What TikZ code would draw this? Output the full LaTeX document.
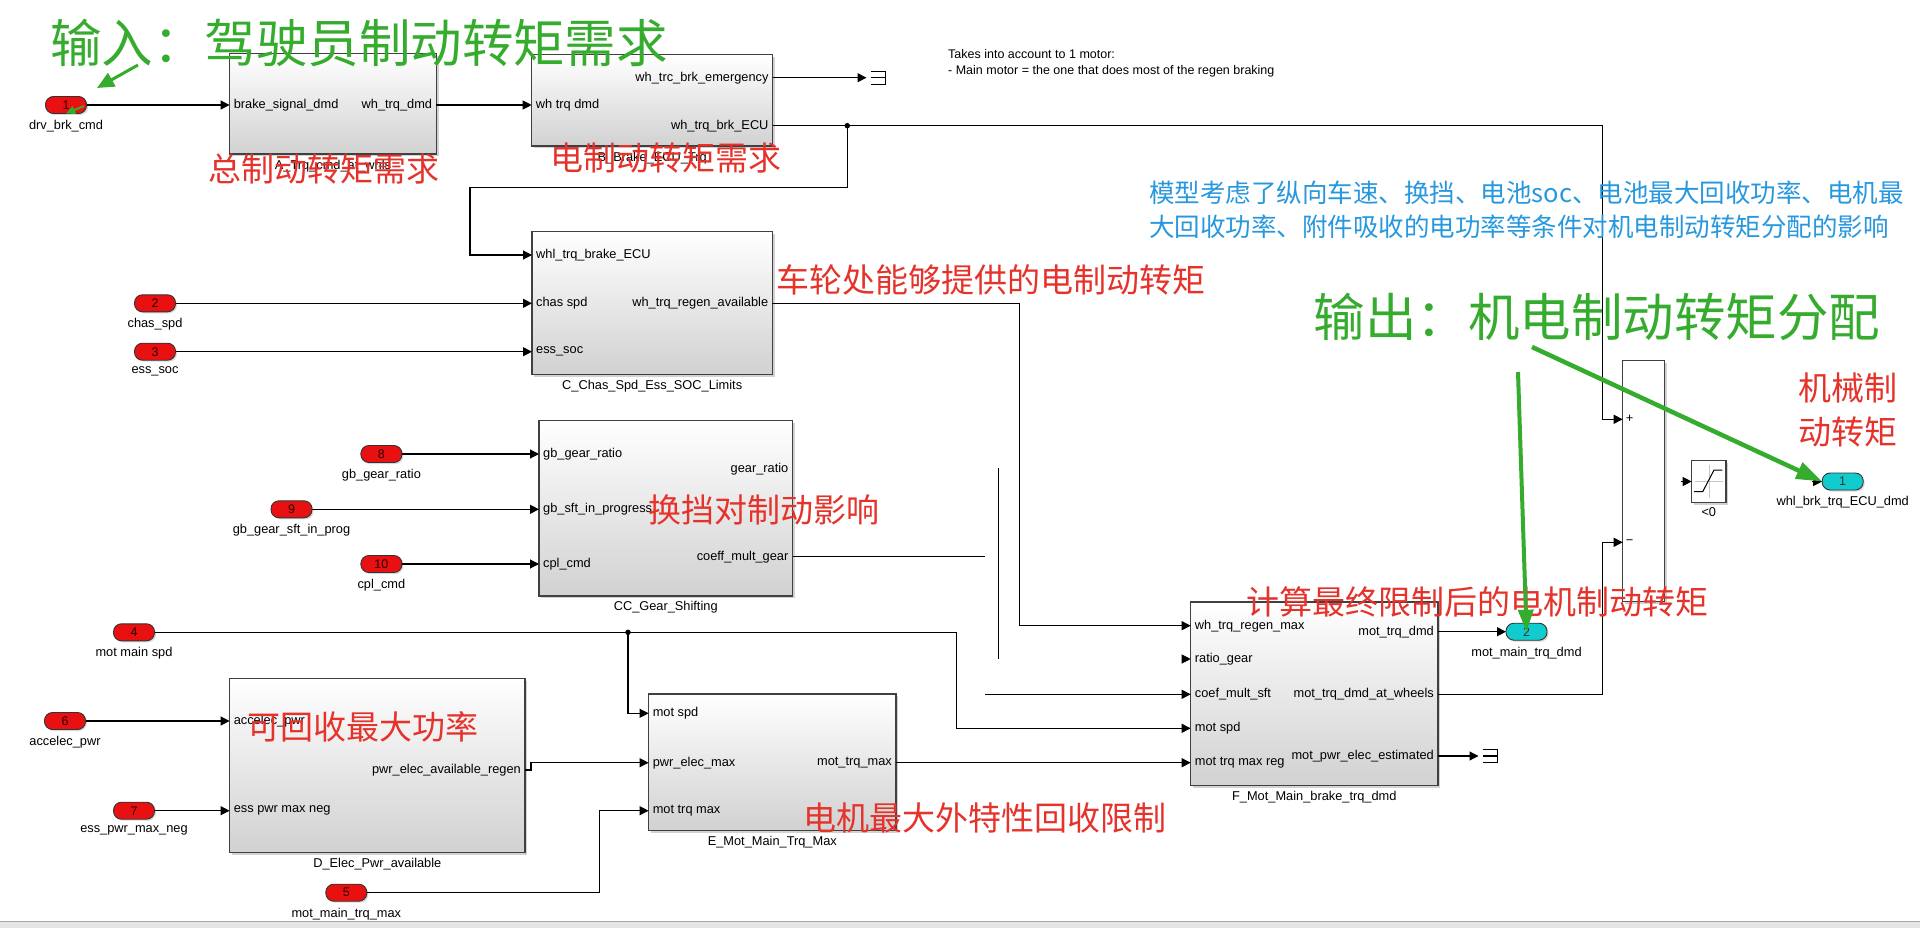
\documentclass[tikz,border=0pt]{standalone}
\usepackage{fontspec}
\setmainfont{Liberation Sans}
\newfontfamily\cjkfont{Noto Sans CJK SC}
\usepackage{tikz}
\usetikzlibrary{positioning,arrows.meta,calc,shadows}
\definecolor{SimRed}{HTML}{E81010}
\definecolor{SimCyan}{HTML}{10CCCC}
\definecolor{NoteRed}{HTML}{E5322B}
\definecolor{NoteGreen}{HTML}{36AC2E}
\definecolor{NoteBlue}{HTML}{2798DE}

\begin{document}
\begin{tikzpicture}[
  x=1pt,y=-1pt,
  blk/.style={draw=black!75,line width=1.3pt,top color=white,bottom color=black!18,inner sep=0pt,outer sep=0pt,
    drop shadow={shadow xshift=2.2pt,shadow yshift=-2.2pt,opacity=0.35}},
  sumblk/.style={blk,top color=white,bottom color=white},
  inport/.style={draw=black!80,line width=0.9pt,fill=SimRed,rounded corners=8pt,minimum width=41pt,minimum height=17pt,
    inner sep=0pt,outer sep=0pt,font=\fontsize{12.5}{12.5}\selectfont,text=black!85!red,
    drop shadow={shadow xshift=1.5pt,shadow yshift=-1.5pt,opacity=0.3}},
  outport/.style={inport,fill=SimCyan,text=black!80},
  plab/.style={inner sep=0pt,font=\fontsize{12.8}{14}\selectfont},
  wire/.style={line width=1.1pt,-{Triangle[length=9pt,width=9pt]}},
  bare/.style={line width=1.1pt},
  junc/.style={circle,fill=black,inner sep=0pt,minimum size=5.5pt},
  sink/.style={inner sep=0pt,outer sep=0pt,minimum width=15pt,minimum height=13pt},
  rednote/.style={inner sep=0pt,text=NoteRed,font=\cjkfont\fontsize{33}{43.7}\selectfont,align=center},
  greennote/.style={inner sep=0pt,text=NoteGreen,font=\cjkfont\fontsize{51.5}{56}\selectfont},
  bluenote/.style={inner sep=0pt,text=NoteBlue,font=\cjkfont\fontsize{25.5}{34}\selectfont,align=left},
  pointer/.style={draw=NoteGreen,line width=4pt,-{Triangle[length=22pt,width=15pt]}}
]
\fill[white] (0,0) rectangle (1920,928);
\useasboundingbox (0,0) rectangle (1920,928);
\fill[black!10] (0,921) rectangle (1920,928);
\draw[black!35,line width=0.8pt] (0,921) -- (1920,921);

% subsystems
\node[blk,minimum width=206.7pt,minimum height=100.7pt] (A) at (333,103.7) {};
\node[blk,minimum width=241pt,minimum height=91.7pt] (B) at (652.2,100.2) {};
\node[blk,minimum width=240.4pt,minimum height=142.6pt] (C) at (652.2,303) {};
\node[blk,minimum width=253.5pt,minimum height=175.2pt] (CC) at (665.7,508.4) {};
\node[blk,minimum width=295.4pt,minimum height=174pt] (D) at (377.3,765.3) {};
\node[blk,minimum width=247.4pt,minimum height=136.7pt] (E) at (772.3,762.3) {};
\node[blk,minimum width=247.3pt,minimum height=183.7pt] (F) at (1314.3,693.8) {};
\node[sumblk,minimum width=41.6pt,minimum height=241pt] (sum) at (1643.5,481.2) {};
\node[sumblk,minimum width=34.3pt,minimum height=41.6pt] (cmp) at (1708.8,481.5) {};
\draw[black!22,line width=0.6pt] ([yshift=-4pt]cmp.north) -- ([yshift=4pt]cmp.south);
\draw[black!22,line width=0.6pt] ([xshift=3pt]cmp.west) -- ([xshift=-3pt]cmp.east);
\draw[line width=1pt] ($(cmp.center)+(-14.8,10.2)$) -- ++(8.7,0) -- ++(11.3,-21.7) -- ++(8.3,0);

\node[plab,below=5.5pt of A] (A-name) {A\_Trq\_cmd\_at\_whls};
\node[plab,below=5.5pt of B] (B-name) {B\_Brake\_ECU\_Trq};
\node[plab,below=5.5pt of C] (C-name) {C\_Chas\_Spd\_Ess\_SOC\_Limits};
\node[plab,below=5.5pt of CC] (CC-name) {CC\_Gear\_Shifting};
\node[plab,below=5.5pt of D] (D-name) {D\_Elec\_Pwr\_available};
\node[plab,below=5.5pt of E] (E-name) {E\_Mot\_Main\_Trq\_Max};
\node[plab,below=5.5pt of F] (F-name) {F\_Mot\_Main\_brake\_trq\_dmd};
\node[plab,below=5.5pt of cmp] (cmp-name) {<0};

% ports
\node[inport] (in1) at (66,105) {1};
\node[inport] (in2) at (155,303.3) {2};
\node[inport] (in3) at (155,351.7) {3};
\node[inport] (in8) at (381.4,454) {8};
\node[inport] (in9) at (291.5,509.3) {9};
\node[inport] (in10) at (381.4,564) {10};
\node[inport] (in4) at (134,632.3) {4};
\node[inport] (in6) at (65,721) {6};
\node[inport] (in7) at (134,810.7) {7};
\node[inport] (in5) at (346.3,892.7) {5};
\node[outport] (out2) at (1526.5,631.7) {2};
\node[outport] (out1) at (1842.7,481.5) {1};
\node[plab,below=6.5pt of in1] (in1-name) {drv\_brk\_cmd};
\node[plab,below=6.5pt of in2] (in2-name) {chas\_spd};
\node[plab,below=6.5pt of in3] (in3-name) {ess\_soc};
\node[plab,below=6.5pt of in8] (in8-name) {gb\_gear\_ratio};
\node[plab,below=6.5pt of in9] (in9-name) {gb\_gear\_sft\_in\_prog};
\node[plab,below=6.5pt of in10] (in10-name) {cpl\_cmd};
\node[plab,below=6.5pt of in4] (in4-name) {mot main spd};
\node[plab,below=6.5pt of in6] (in6-name) {accelec\_pwr};
\node[plab,below=6.5pt of in7] (in7-name) {ess\_pwr\_max\_neg};
\node[plab,below=6.5pt of in5] (in5-name) {mot\_main\_trq\_max};
\node[plab,below=6.5pt of out2] (out2-name) {mot\_main\_trq\_dmd};
\node[plab,below=6.5pt of out1] (out1-name) {whl\_brk\_trq\_ECU\_dmd};
\node[sink] (T1) at (878,77.7) {};
\node[sink] (T2) at (1490,756) {};
\draw[bare] (T1.north west) -- (T1.north east) -- (T1.south east) -- (T1.south west) (T1.west) -- (T1.east);
\draw[bare] (T2.north west) -- (T2.north east) -- (T2.south east) -- (T2.south west) (T2.west) -- (T2.east);

% port points and bends
\coordinate (A-i1) at (229.6,105);
\coordinate (A-o1) at (436.3,105);
\coordinate (B-i1) at (531.7,105);
\coordinate (B-o1) at (772.7,77.7);
\coordinate (B-o2) at (772.7,125.7);
\coordinate (C-i1) at (532,255);
\coordinate (C-i2) at (532,303.3);
\coordinate (C-i3) at (532,351.7);
\coordinate (C-o1) at (772.4,303.3);
\coordinate (CC-i1) at (539,454);
\coordinate (CC-i2) at (539,509.3);
\coordinate (CC-i3) at (539,564);
\coordinate (CC-o1) at (792.5,469);
\coordinate (CC-o2) at (792.5,556.7);
\coordinate (D-i1) at (229.6,721);
\coordinate (D-i2) at (229.6,810.7);
\coordinate (D-o1) at (525,770);
\coordinate (E-i1) at (648.6,713.3);
\coordinate (E-i2) at (648.6,762.7);
\coordinate (E-i3) at (648.6,810.7);
\coordinate (E-o1) at (896,762.7);
\coordinate (F-i1) at (1190.7,625.7);
\coordinate (F-i2) at (1190.7,659);
\coordinate (F-i3) at (1190.7,694.3);
\coordinate (F-i4) at (1190.7,728.3);
\coordinate (F-i5) at (1190.7,762.7);
\coordinate (F-o1) at (1438,631.7);
\coordinate (F-o2) at (1438,694.3);
\coordinate (F-o3) at (1438,756);
\coordinate (S-i1) at (1622.7,419.3);
\coordinate (S-i2) at (1622.7,542.3);
\coordinate (J1) at (847.3,125.7);
\coordinate (J2) at (628,632.3);
\coordinate (K1) at (1602.6,419.3);
\coordinate (K2) at (470,187.3);
\coordinate (K3) at (1019.4,625.7);
\coordinate (K4) at (956.7,728.3);
\coordinate (K5) at (531,770);
\coordinate (K6) at (599.5,810.7);
\coordinate (K7) at (1602.3,542.3);
\coordinate (W1) at (985,556.7);
\coordinate (W2) at (998.3,468);
\coordinate (W3) at (998.3,659.3);
\coordinate (W4) at (985,694.3);

% port labels
\node[plab,right=4pt of A-i1] (A-t1) {brake\_signal\_dmd};
\node[plab,left=4pt of A-o1] (A-t2) {wh\_trq\_dmd};
\node[plab,right=4pt of B-i1] (B-t1) {wh trq dmd};
\node[plab,left=4pt of B-o1] (B-t2) {wh\_trc\_brk\_emergency};
\node[plab,left=4pt of B-o2] (B-t3) {wh\_trq\_brk\_ECU};
\node[plab,right=4pt of C-i1] (C-t1) {whl\_trq\_brake\_ECU};
\node[plab,right=4pt of C-i2] (C-t2) {chas spd};
\node[plab,right=4pt of C-i3] (C-t3) {ess\_soc};
\node[plab,left=4pt of C-o1] (C-t4) {wh\_trq\_regen\_available};
\node[plab,right=4pt of CC-i1] (CC-t1) {gb\_gear\_ratio};
\node[plab,right=4pt of CC-i2] (CC-t2) {gb\_sft\_in\_progress};
\node[plab,right=4pt of CC-i3] (CC-t3) {cpl\_cmd};
\node[plab,left=4pt of CC-o1] (CC-t4) {gear\_ratio};
\node[plab,left=4pt of CC-o2] (CC-t5) {coeff\_mult\_gear};
\node[plab,right=4pt of D-i1] (D-t1) {accelec\_pwr};
\node[plab,right=4pt of D-i2] (D-t2) {ess pwr max neg};
\node[plab,left=4pt of D-o1] (D-t3) {pwr\_elec\_available\_regen};
\node[plab,right=4pt of E-i1] (E-t1) {mot spd};
\node[plab,right=4pt of E-i2] (E-t2) {pwr\_elec\_max};
\node[plab,right=4pt of E-i3] (E-t3) {mot trq max};
\node[plab,left=4pt of E-o1] (E-t4) {mot\_trq\_max};
\node[plab,right=4pt of F-i1] (F-t1) {wh\_trq\_regen\_max};
\node[plab,right=4pt of F-i2] (F-t2) {ratio\_gear};
\node[plab,right=4pt of F-i3] (F-t3) {coef\_mult\_sft};
\node[plab,right=4pt of F-i4] (F-t4) {mot spd};
\node[plab,right=4pt of F-i5] (F-t5) {mot trq max reg};
\node[plab,left=4pt of F-o1] (F-t6) {mot\_trq\_dmd};
\node[plab,left=4pt of F-o2] (F-t7) {mot\_trq\_dmd\_at\_wheels};
\node[plab,left=4pt of F-o3] (F-t8) {mot\_pwr\_elec\_estimated};
\node[plab,right=3pt of S-i1] (S-t1) {+};
\node[plab,right=3pt of S-i2] (S-t2) {−};

% signal lines
\draw[wire] (in1.east) -- (A-i1);
\draw[wire] (A-o1) -- (B-i1);
\draw[wire] (B-o1) -- ([xshift=-4pt]T1.west);
\draw[wire] (B-o2) -| (K1) -- (S-i1);
\draw[wire] (J1) |- (K2) |- (C-i1);
\node[junc] (J1-dot) at (J1) {};
\draw[wire] (in2.east) -- (C-i2);
\draw[wire] (in3.east) -- (C-i3);
\draw[wire] (C-o1) -| (K3) -- (F-i1);
\draw[wire] (in8.east) -- (CC-i1);
\draw[wire] (in9.east) -- (CC-i2);
\draw[wire] (in10.east) -- (CC-i3);
\draw[bare] (CC-o2) -- (W1);
\draw[bare] (W2) -- (W3);
\draw[wire] (W4) -- (F-i3);
\draw[wire] ($(F-i2)+(-9,0)$) -- (F-i2);
\draw[wire] (in4.east) -| (K4) -- (F-i4);
\draw[wire] (J2) |- (E-i1);
\node[junc] (J2-dot) at (J2) {};
\draw[wire] (in6.east) -- (D-i1);
\draw[wire] (in7.east) -- (D-i2);
\draw[wire] (D-o1) -- (K5) |- (E-i2);
\draw[wire] (E-o1) -- (F-i5);
\draw[wire] (in5.east) -| (K6) -- (E-i3);
\draw[wire] (F-o1) -- (out2.west);
\draw[wire] (F-o2) -| (K7) -- (S-i2);
\draw[wire] (F-o3) -- ([xshift=-4pt]T2.west);
\draw[wire] ($(cmp.west)+(-11,0)$) -- (cmp.west);
\draw[wire] ($(out1.west)+(-10,0)$) -- (out1.west);

% notes
\node[plab,align=left,anchor=west,font=\fontsize{12.5}{16.7}\selectfont] (motor-note) at (948,63.4) {Takes into account to 1 motor:\\- Main motor = the one that does most of the regen braking};
\node[bluenote,anchor=west] (scope-note) at (1149,210) {模型考虑了纵向车速、换挡、电池soc、电池最大回收功率、电机最\\大回收功率、附件吸收的电功率等条件对机电制动转矩分配的影响};
\node[greennote] (title-in) at (359,42.5) {输入：驾驶员制动转矩需求};
\node[greennote] (title-out) at (1597,316.7) {输出：机电制动转矩分配};
\node[rednote] (n-total) at (324.4,169) {总制动转矩需求};
\node[rednote] (n-elec) at (665.9,158) {电制动转矩需求};
\node[rednote] (n-wheel) at (990.9,280) {车轮处能够提供的电制动转矩};
\node[rednote] (n-gear) at (763.5,510) {换挡对制动影响};
\node[rednote] (n-power) at (362.5,726.7) {可回收最大功率};
\node[rednote] (n-motor) at (984.5,818) {电机最大外特性回收限制};
\node[rednote] (n-final) at (1477.5,602) {计算最终限制后的电机制动转矩};
\node[rednote] (n-mech) at (1848,410) {机械制\\动转矩};

% green pointers
\coordinate (g1s) at (138,65);
\coordinate (g1e) at (97,88);
\coordinate (g2s) at (84,106);
\coordinate (g3s) at (1532,347);
\coordinate (g4s) at (1518,372);
\draw[pointer,line width=3pt,-{Triangle[length=17pt,width=15pt]}] (g1s) -- (g1e);
\draw[pointer,line width=2pt,-{Triangle[length=9pt,width=8pt]}] (g2s) -- (in1.south);
\draw[pointer,line width=4.5pt,-{Triangle[length=26pt,width=17pt]}] (g3s) -- (out1.west);
\draw[pointer] (g4s) -- (out2.center);
\end{tikzpicture}
\end{document}
